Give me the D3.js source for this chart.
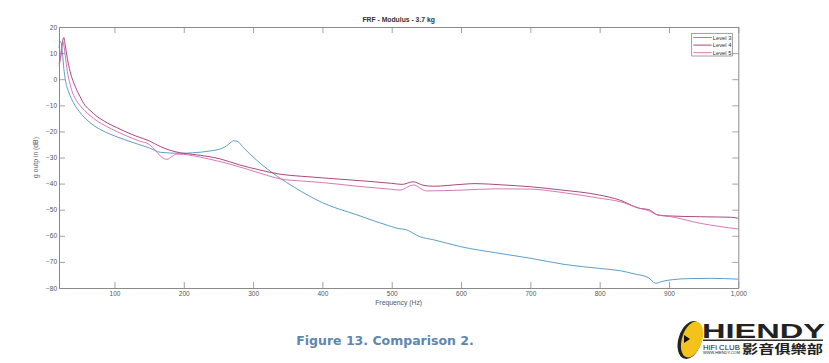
<!DOCTYPE html>
<html><head><meta charset="utf-8">
<script src="https://cdn.jsdelivr.net/npm/d3@7"></script>
<style>body{margin:0;background:#fff}svg{display:block}</style>
</head><body>
<svg id="c" width="829" height="363"></svg>
<script>
// ---- data ----
const title = "FRF - Modulus - 3.7 kg";
const xLabel = "Frequency (Hz)";
const yLabel = "g outp in (dB)";
const caption = "Figure 13. Comparison 2.";
const seriesNames = ["Level 3", "Level 4", "Level 5"];
const xTicks = [100, 200, 300, 400, 500, 600, 700, 800, 900, 1000];
const yTicks = [20, 10, 0, -10, -20, -30, -40, -50, -60, -70, -80];

const freqL3 = [20, 21.5, 23, 25, 27, 29, 31, 34, 38, 43, 49, 56, 65, 79, 95, 115, 135, 150, 166, 195, 213, 238, 255, 262, 268, 272, 278, 285, 305, 336, 360, 400, 450, 500, 509, 520, 541, 560, 600, 650, 700, 750, 800, 830, 850, 870, 881, 890, 905, 930, 960, 1000];
const valL3  = [12, 14.5, 14, 10, 4, 0, -2.5, -5, -7.5, -10, -12.3, -14.5, -16.7, -19.2, -21.2, -23.2, -25, -26.3, -28, -28.4, -28.2, -27.5, -26.5, -25.5, -24.2, -23.6, -23.9, -25.9, -31, -37.4, -41.5, -47.3, -52, -56.5, -57.2, -57.6, -60.4, -61.5, -64.2, -66.5, -68.6, -71, -72.5, -73.4, -74.6, -76, -78.2, -77.5, -76.8, -76.4, -76.3, -76.6];

const freqL4 = [20, 22, 24, 26, 27, 29, 32, 36, 40, 45, 50, 57.5, 65, 75, 90, 103, 115, 130, 150, 166, 180, 195, 213, 235, 252, 280, 310, 339, 370, 400, 450, 500, 515, 531, 545, 560, 600, 620, 660, 700, 743, 800, 829, 858, 870, 884, 901, 945, 990, 1000];
const valL4  = [6, 8, 12, 15.5, 16, 13, 8, 3, -0.5, -3.8, -6.5, -10, -12, -14.3, -16.8, -18.5, -20, -21.7, -23.6, -25.8, -27.2, -28.2, -28.8, -29.6, -30.5, -32.8, -34.8, -36.4, -37.2, -37.8, -38.8, -39.9, -40.3, -39.3, -40.6, -41, -40.3, -40, -40.5, -41.2, -42.4, -44.4, -46.3, -49.5, -49.9, -52, -52.4, -52.7, -52.9, -53.3];

const freqL5 = [20, 22, 24, 25.5, 27, 29, 32, 36, 40, 45, 50, 57, 65, 75, 88, 103, 118, 135, 150, 160, 166, 172, 176, 183, 190, 200, 213, 235, 262, 310, 339, 370, 400, 450, 500, 512, 531, 550, 600, 650, 700, 743, 800, 829, 858, 870, 884, 901, 945, 1000];
const valL5  = [5, 8, 13, 14.5, 13, 9, 3, -2, -5.5, -8.2, -10, -12, -14, -16, -18, -20, -21.8, -23.6, -25, -27.5, -29.4, -30.5, -30.7, -29.6, -28.7, -28.8, -29.3, -30.5, -32.2, -36, -38.2, -39, -39.6, -41, -42.2, -42.5, -40.5, -42.8, -42.5, -42, -42.1, -43.3, -45.6, -46.9, -49.5, -50.3, -52.1, -52.6, -55.2, -57.4];

const colors = ["#4a93c4", "#a0346c", "#d468b4"];

// ---- layout ----
const svg = d3.select("#c");
const L = 59, R = 738.3, T = 27, B = 288;
const x = d3.scaleLinear().domain([20, 1000]).range([L, R]);
const y = d3.scaleLinear().domain([-80, 20]).range([B, T]);
const axisColor = "#8a8a8a", textColor = "#555";

function styleAxis(g){
  g.selectAll("path.domain").attr("stroke", axisColor).attr("stroke-width", 1);
  g.selectAll(".tick line").attr("stroke", axisColor).attr("stroke-width", 0.8);
  g.selectAll(".tick text").attr("fill", textColor).attr("font-family", "Liberation Sans, Arial, sans-serif").attr("font-size", 6.5);
}
svg.append("g").attr("transform", `translate(0,${B})`)
  .call(d3.axisBottom(x).tickValues(xTicks).tickSize(-6).tickSizeOuter(0).tickPadding(3)).call(styleAxis);
svg.append("g").attr("transform", `translate(0,${T})`)
  .call(d3.axisTop(x).tickValues(xTicks).tickSize(-6).tickSizeOuter(0).tickFormat("")).call(styleAxis);
svg.append("g").attr("transform", `translate(${L},0)`)
  .call(d3.axisLeft(y).tickValues(yTicks).tickSize(-6).tickSizeOuter(0).tickPadding(2)).call(styleAxis);
svg.append("g").attr("transform", `translate(${R},0)`)
  .call(d3.axisRight(y).tickValues(yTicks).tickSize(-6).tickSizeOuter(0).tickFormat("")).call(styleAxis);

// ---- lines ----
const line = d3.line().x(d => x(d[0])).y(d => y(d[1])).curve(d3.curveMonotoneX);
const series = [
  d3.zip(freqL3, valL3),
  d3.zip(freqL4, valL4),
  d3.zip(freqL5, valL5)
];
series.forEach((s, i) => {
  svg.append("path").attr("d", line(s)).attr("fill", "none")
    .attr("stroke", colors[i]).attr("stroke-width", 0.9);
});

// ---- texts ----
svg.append("text").attr("x", (L + R) / 2).attr("y", 22).attr("text-anchor", "middle")
  .attr("font-family", "Liberation Sans, Arial, sans-serif").attr("font-weight", "bold")
  .attr("font-size", 6.8).attr("fill", "#333").text(title);
svg.append("text").attr("x", (L + R) / 2).attr("y", 305).attr("text-anchor", "middle")
  .attr("font-family", "Liberation Sans, Arial, sans-serif").attr("font-size", 6.8)
  .attr("fill", textColor).text(xLabel);
svg.append("text").attr("transform", `translate(38,${(T + B) / 2}) rotate(-90)`).attr("text-anchor", "middle")
  .attr("font-family", "Liberation Sans, Arial, sans-serif").attr("font-size", 6.8)
  .attr("fill", textColor).text(yLabel);

// ---- legend ----
const lg = svg.append("g");
lg.append("rect").attr("x", 691.7).attr("y", 33.3).attr("width", 40.6).attr("height", 22.7)
  .attr("fill", "#fff").attr("stroke", "#777").attr("stroke-width", 0.7);
seriesNames.forEach((n, i) => {
  const yy = 37.5 + i * 7.6;
  lg.append("line").attr("x1", 693.3).attr("x2", 711.7).attr("y1", yy).attr("y2", yy)
    .attr("stroke", colors[i]).attr("stroke-width", 0.9);
  lg.append("text").attr("x", 712.7).attr("y", yy + 2).attr("font-size", 5.8)
    .attr("font-family", "Liberation Sans, Arial, sans-serif").attr("fill", "#333").text(n);
});

// ---- caption ----
svg.append("text").attr("x", 385).attr("y", 345).attr("text-anchor", "middle")
  .attr("font-family", "DejaVu Sans, Verdana, sans-serif").attr("font-weight", "bold")
  .attr("font-size", 12.5).attr("fill", "#5d87b1").text(caption);

// ---- logo ----
const logo = svg.append("g");
logo.append("ellipse").attr("cx", 690).attr("cy", 340).attr("rx", 11.5).attr("ry", 19.5)
  .attr("transform", "rotate(18,690,340)").attr("fill", "#222");
logo.append("ellipse").attr("cx", 692).attr("cy", 339.5).attr("rx", 10).attr("ry", 18.5)
  .attr("transform", "rotate(18,692,339.5)").attr("fill", "#f3c21b");
logo.append("path").attr("d", "M684,335 L690,339 L684,343 Z").attr("fill", "#111");
logo.append("text").attr("x", 702).attr("y", 337.5).attr("font-family", "Liberation Sans, Arial, sans-serif")
  .attr("font-weight", "bold").attr("font-size", 20).attr("textLength", 123).attr("lengthAdjust", "spacingAndGlyphs")
  .attr("fill", "#222").text("HIENDY");
logo.append("rect").attr("x", 703).attr("y", 339.5).attr("width", 120).attr("height", 1.5).attr("fill", "#333");
logo.append("text").attr("x", 703).attr("y", 349.5).attr("font-family", "Liberation Sans, Arial, sans-serif")
  .attr("font-size", 8).attr("textLength", 37).attr("lengthAdjust", "spacingAndGlyphs")
  .attr("fill", "#222").text("HiFi CLUB");
logo.append("text").attr("x", 703).attr("y", 354).attr("font-family", "Liberation Sans, Arial, sans-serif")
  .attr("font-size", 3.6).attr("textLength", 37).attr("lengthAdjust", "spacingAndGlyphs")
  .attr("fill", "#222").text("WWW.HIENDY.COM");
logo.append("text").attr("x", 742).attr("y", 354).attr("font-family", "Noto Sans CJK TC, sans-serif")
  .attr("font-weight", "bold").attr("font-size", 12).attr("textLength", 81).attr("lengthAdjust", "spacingAndGlyphs")
  .attr("fill", "#222").text("影音俱樂部");
</script>
</body></html>
